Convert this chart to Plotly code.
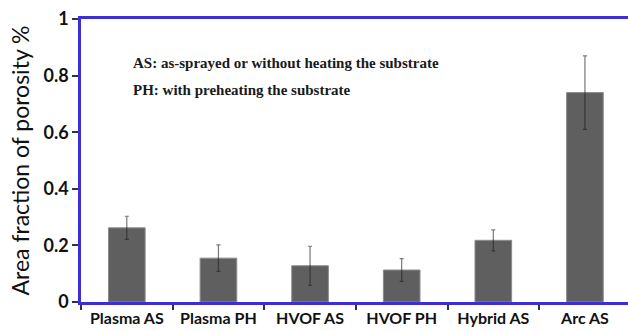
import plotly.graph_objects as go

# Porosity measurements per coating process
categories = ["Plasma AS", "Plasma PH", "HVOF AS", "HVOF PH", "Hybrid AS", "Arc AS"]
porosity = [0.262, 0.155, 0.128, 0.113, 0.218, 0.740]
errors = [0.041, 0.047, 0.069, 0.040, 0.037, 0.130]

y_ticks = [0, 0.2, 0.4, 0.6, 0.8, 1]
y_tick_text = ["0", "0.2", "0.4", "0.6", "0.8", "1"]

notes = [
    "AS: as-sprayed or without heating the substrate",
    "PH: with preheating the substrate",
]

axis_blue = "#3d2fd8"

fig = go.Figure(
    go.Bar(
        x=categories,
        y=porosity,
        width=0.4,
        marker=dict(color="#5f5f5f", line=dict(color="#8c8c8c", width=1)),
        error_y=dict(
            type="data",
            array=errors,
            visible=True,
            color="rgba(30,30,30,0.6)",
            thickness=1.2,
            width=2,
        ),
    )
)

for i, note in enumerate(notes):
    fig.add_annotation(
        text=note,
        xref="paper",
        yref="paper",
        x=0.091,
        y=[0.845, 0.75][i],
        xanchor="left",
        yanchor="middle",
        showarrow=False,
        font=dict(family="Liberation Serif", size=15, color="#1a1a1a", weight="bold"),
    )

fig.update_layout(
    width=628,
    height=331,
    margin=dict(l=81, r=0, t=19, b=29),
    paper_bgcolor="white",
    plot_bgcolor="white",
    showlegend=False,
    xaxis=dict(
        range=[-0.5, 5.47],
        showline=True,
        linecolor=axis_blue,
        linewidth=2.5,
        mirror=True,
        ticks="outside",
        tickson="boundaries",
        ticklen=5,
        tickwidth=1.5,
        tickcolor="#333333",
        showgrid=False,
        tickfont=dict(family="Lato", size=16, color="#111111", weight="bold"),
    ),
    yaxis=dict(
        range=[0, 1],
        tickvals=y_ticks,
        ticktext=y_tick_text,
        showline=True,
        linecolor=axis_blue,
        linewidth=2.5,
        ticks="outside",
        ticklen=6,
        tickwidth=1.5,
        tickcolor="#333333",
        showgrid=False,
        zeroline=False,
        tickfont=dict(family="Lato", size=18, color="#111111", weight="bold"),
        title=dict(
            text="Area fraction of porosity %",
            font=dict(family="Lato", size=23, color="#111111"),
            standoff=8,
        ),
    ),
)

fig.write_html("out.html")
